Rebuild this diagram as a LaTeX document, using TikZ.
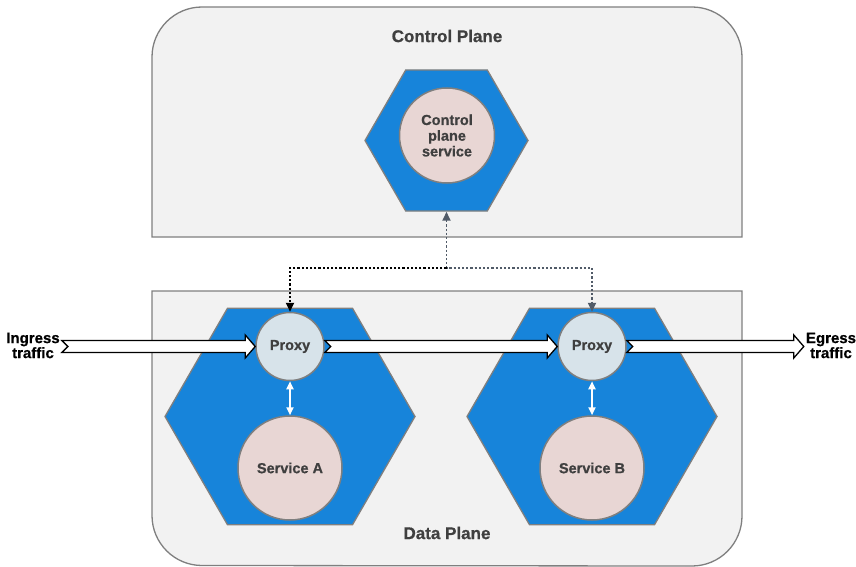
\documentclass[tikz,border=0pt]{standalone}
\usepackage{fontspec}
\setmainfont{Liberation Sans}[BoldFeatures={FakeBold=0.7}]
\usetikzlibrary{arrows.meta,shapes.geometric,calc}

\definecolor{planefill}{HTML}{F2F2F2}
\definecolor{edgegray}{HTML}{7F7F7F}
\definecolor{podblue}{HTML}{1784DA}
\definecolor{svcfill}{HTML}{E8D6D4}
\definecolor{proxyfill}{HTML}{D7E3EA}
\definecolor{labelgray}{HTML}{3F3F3F}
\definecolor{slate}{HTML}{515B68}

% hollow traffic arrow with a notched tail, from #1 to #2
\newcommand{\fatarrow}[2]{%
  \draw[bigflow] let \p1=(#1), \p2=(#2) in
    (\x1,\y1+6pt) -- (\x2-10pt,\y1+6pt) -- (\x2-10pt,\y1+11.5pt) -- (\x2,\y1)
    -- (\x2-10pt,\y1-11.5pt) -- (\x2-10pt,\y1-6pt) -- (\x1,\y1-6pt)
    -- (\x1+6pt,\y1) -- cycle;}

\begin{document}
\begin{tikzpicture}[x=1pt,y=-1pt,
  plane/.style={draw=edgegray, fill=planefill, line width=1.3pt},
  pod/.style={regular polygon, regular polygon sides=6, draw=edgegray,
    fill=podblue, line width=1.3pt, inner sep=0pt},
  svc/.style={circle, draw=edgegray, fill=svcfill, line width=1.5pt,
    inner sep=0pt, text=labelgray, font=\fontsize{14.5}{15.7}\selectfont\bfseries,
    align=center},
  prx/.style={svc, fill=proxyfill, minimum size=68pt},
  title/.style={text=labelgray, font=\fontsize{17}{18}\selectfont\bfseries},
  flowtext/.style={text=black, font=\fontsize{15}{15}\selectfont\bfseries,
    align=center, inner sep=2pt},
  bigflow/.style={draw=black, fill=white, line width=1.3pt, line join=miter},
  ctl/.style={line width=1.8pt, dash pattern=on 2.2pt off 2pt},
  ctltip/.style={-{Triangle[length=9pt,width=8pt]}},
  link/.style={draw=white, line width=2pt,
    {Triangle[length=8pt,width=7pt]}-{Triangle[length=8pt,width=7pt]}}
]
\useasboundingbox (0,0) rectangle (856,567);

% planes
\draw[plane] (152,237) -- (152,57) arc (180:90:50pt) -- (692,7)
  arc (90:0:50pt) -- (742,237) -- cycle;
\draw[plane] (152,291) -- (742,291) -- (742,516) arc (0:-90:50pt)
  -- (202,565.5) arc (-90:-180:50pt) -- cycle;

\node[title] (cptitle) at (447,36) {Control Plane};
\node[title] (dptitle) at (447,533) {Data Plane};

% control plane pod
\node[pod, minimum size=163pt] (chex) at (446.5,140.5) {};
\node[svc, minimum size=95pt] (cps) at (447,135.5) {Control\\plane\\service};

% data plane pods
\node[pod, minimum size=250pt] (hexa) at (290,416.5) {};
\node[pod, minimum size=250pt] (hexb) at (592,416.5) {};
\node[prx] (pa) at (290,346.5) {Proxy};
\node[prx] (pb) at (592,346.5) {Proxy};
\node[svc, minimum size=104pt] (sa) at (290,468) {Service A};
\node[svc, minimum size=104pt] (sb) at (592,468) {Service B};

\draw[link] (pa.south) -- (sa.north);
\draw[link] (pb.south) -- (sb.north);

% control links
\coordinate (junction) at ($(chex.south)+(0,56)$);
\draw[ctl, slate, {Triangle[length=9pt,width=8pt]}-{Triangle[length=9pt,width=8pt]}]
  (chex.south) -- (junction) -| (pb.north);
\draw[ctl, black, ctltip] (junction) -| (pa.north);

% traffic
\node[flowtext] (ingress) at (33,345.5) {Ingress\\traffic};
\node[flowtext] (egress) at (831,345.5) {Egress\\traffic};
\fatarrow{ingress.east |- pa.west}{pa.west}
\fatarrow{pa.east}{pb.west}
\fatarrow{pb.east}{egress.west |- pb.east}
\end{tikzpicture}
\end{document}
